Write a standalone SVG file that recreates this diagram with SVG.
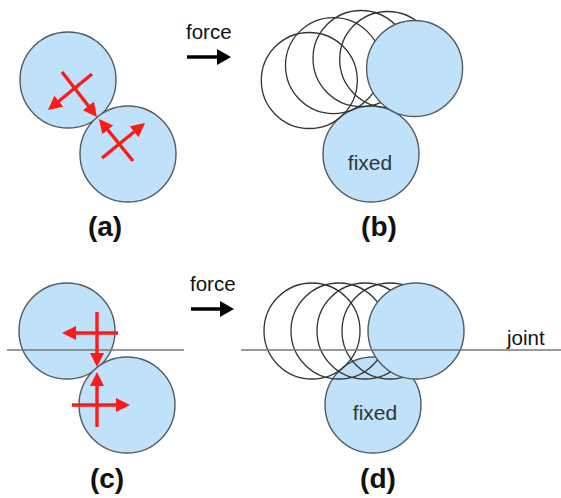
<svg xmlns="http://www.w3.org/2000/svg" width="561" height="498" viewBox="0 0 561 498">
<defs>
<style>
.ball{fill:#bfe1fa;stroke:#555a60;stroke-width:1.4}
.ghost{fill:none;stroke:#333;stroke-width:1.3}
.red{stroke:#ff1a1a;stroke-width:3.4;fill:none;marker-end:url(#rh)}
.force{stroke:#000;stroke-width:3.5;fill:none;marker-end:url(#bh)}
.axis{stroke:#777;stroke-width:1.6}
.t{font-family:"Liberation Sans",Arial,sans-serif;font-size:20.5px;fill:#111}
.fx{font-family:"Liberation Sans",Arial,sans-serif;font-size:21px;fill:#333;text-anchor:middle}
.lab{font-family:"Liberation Sans",Arial,sans-serif;font-size:28px;font-weight:bold;fill:#111;text-anchor:middle}
</style>
<marker id="rh" markerUnits="userSpaceOnUse" markerWidth="16" markerHeight="16" refX="10" refY="7" orient="auto">
<path d="M0,0 L14,7 L0,14 z" fill="#ff1a1a"/>
</marker>
<marker id="bh" markerUnits="userSpaceOnUse" markerWidth="16" markerHeight="18" refX="4" refY="8" orient="auto">
<path d="M0,0 L14,8 L0,16 z" fill="#000"/>
</marker>
</defs>

<g id="panel-a">
<circle id="a-ball1" class="ball" cx="68" cy="80" r="48"/>
<circle id="a-ball2" class="ball" cx="128" cy="154" r="48"/>
<g id="a-arrows">
<line class="red" x1="92" y1="74" x2="51.1" y2="107.5"/>
<line class="red" x1="62" y1="72" x2="94.5" y2="113.8"/>
<line class="red" x1="133" y1="161" x2="101.5" y2="122.1"/>
<line class="red" x1="102" y1="158" x2="141.9" y2="125.5"/>
</g>
<text class="lab" x="105" y="236">(a)</text>
</g>

<g id="panel-b">
<text class="t" x="186" y="39">force</text>
<line class="force" x1="187" y1="57" x2="221" y2="57"/>
<circle id="b-fixed" class="ball" cx="371" cy="154" r="48"/>
<circle class="ghost" cx="309.3" cy="80.5" r="48"/>
<circle class="ghost" cx="333.5" cy="65.6" r="48"/>
<circle class="ghost" cx="361" cy="58.5" r="48"/>
<circle class="ghost" cx="387.7" cy="59.5" r="48"/>
<circle id="b-ball" class="ball" cx="414.6" cy="68.5" r="48"/>
<text class="fx" x="370" y="170">fixed</text>
<text class="lab" x="379" y="236">(b)</text>
</g>

<g id="panel-c">
<circle id="c-ball1" class="ball" cx="67" cy="331" r="48"/>
<circle id="c-ball2" class="ball" cx="127" cy="405" r="48"/>
<line class="axis" x1="7" y1="350" x2="184" y2="350"/>
<g id="c-arrows">
<line class="red" x1="118" y1="333" x2="66" y2="333"/>
<line class="red" x1="97" y1="312" x2="97" y2="363"/>
<line class="red" x1="97" y1="427" x2="97" y2="376"/>
<line class="red" x1="72" y1="405" x2="126" y2="405"/>
</g>
<text class="lab" x="107" y="488">(c)</text>
</g>

<g id="panel-d">
<text class="t" x="190" y="291">force</text>
<line class="force" x1="191" y1="309" x2="224" y2="309"/>
<circle id="d-fixed" class="ball" cx="373" cy="405" r="48"/>
<circle class="ghost" cx="312" cy="331" r="48"/>
<circle class="ghost" cx="339" cy="331" r="48"/>
<circle class="ghost" cx="365" cy="331" r="48"/>
<circle class="ghost" cx="390" cy="331" r="48"/>
<circle id="d-ball" class="ball" cx="416" cy="331" r="48"/>
<line class="axis" x1="241" y1="350" x2="561" y2="350"/>
<text class="t" x="507" y="345">joint</text>
<text class="fx" x="375" y="420">fixed</text>
<text class="lab" x="378" y="488">(d)</text>
</g>
</svg>
